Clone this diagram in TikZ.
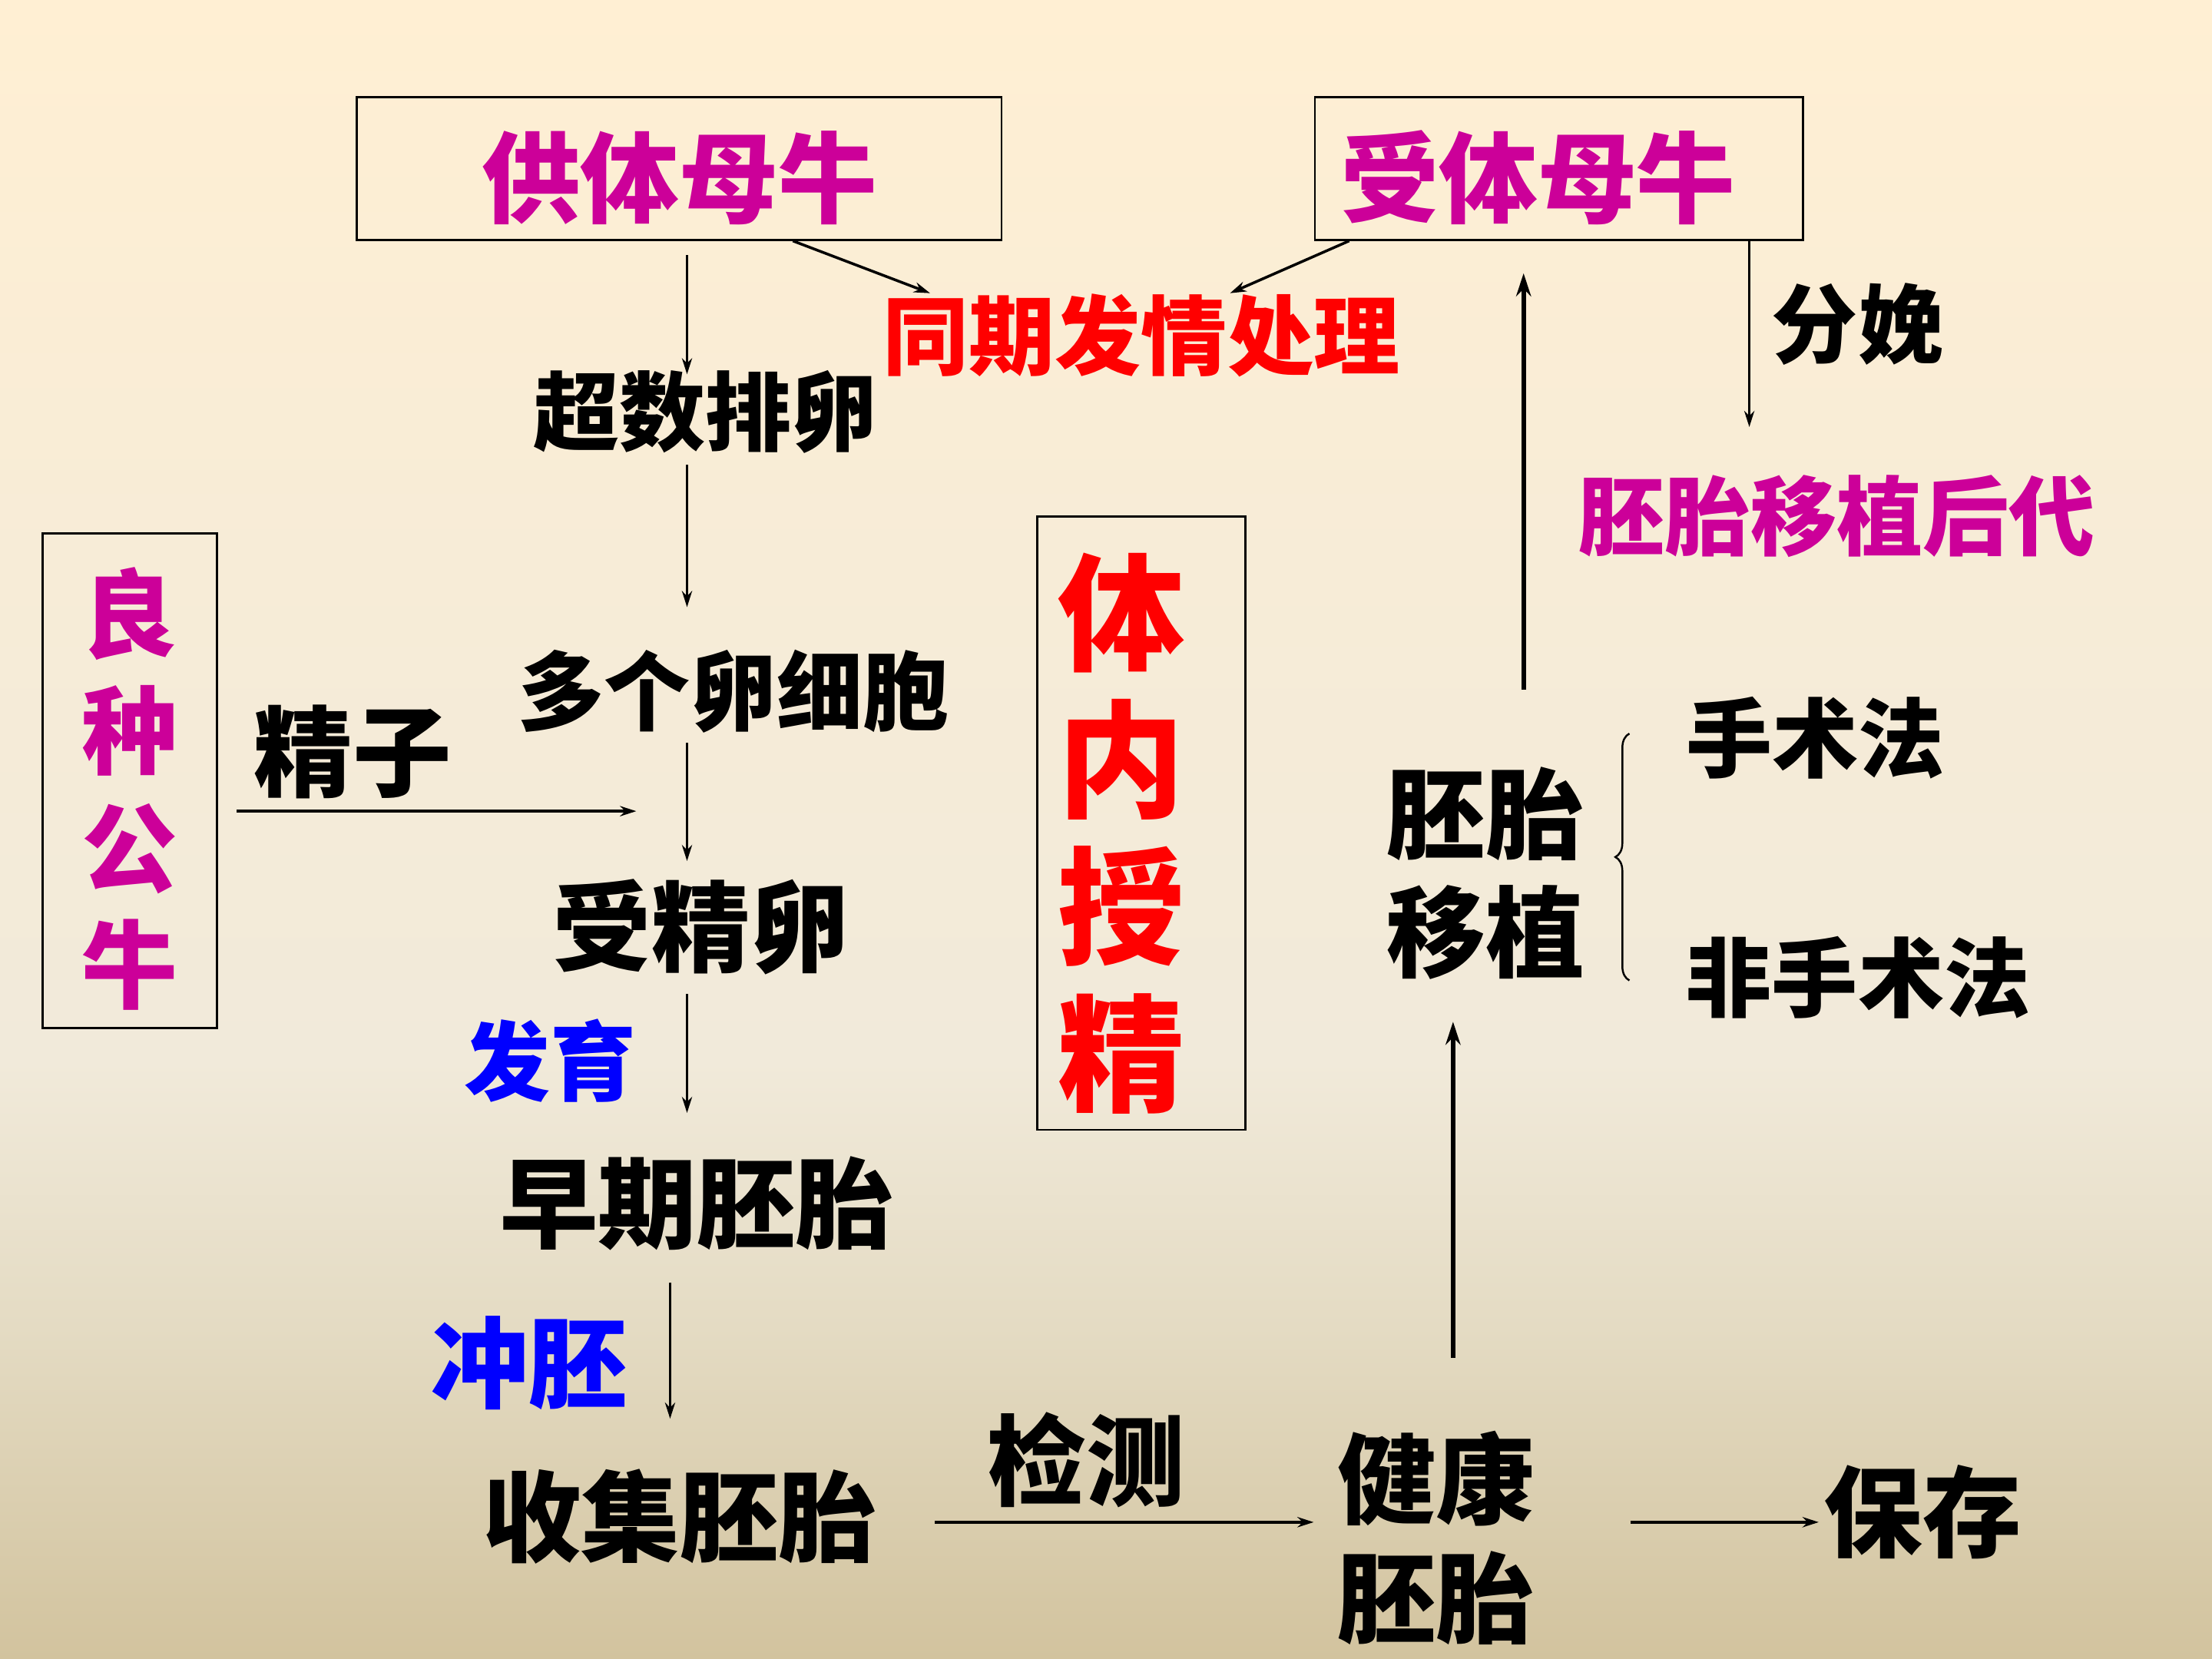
\documentclass[tikz,border=0pt]{standalone}
\usepackage{fontspec}
\setmainfont{Noto Sans CJK SC}
\usetikzlibrary{arrows.meta}
\usetikzlibrary{decorations.pathreplacing}
\definecolor{cowpink}{RGB}{204,0,153}
\definecolor{bgtop}{RGB}{255,239,211}
\definecolor{bgupper}{RGB}{247,236,215}
\definecolor{bgmid}{RGB}{241,234,218}
\definecolor{bglower}{RGB}{228,219,195}
\definecolor{bgbot}{RGB}{210,195,158}
\pgfdeclareverticalshading{slidebg}{100bp}{color(0bp)=(bgbot); color(25bp)=(bgbot); color(35bp)=(bglower); color(43bp)=(bgmid); color(58bp)=(bgupper); color(75bp)=(bgtop); color(100bp)=(bgtop)}
\tikzset{>={Stealth[length=6pt,width=3.8pt]}}
\tikzset{
  bigtxt/.style={inner sep=0pt, font=\fontsize{36.6}{44}\selectfont\bfseries},
  midtxt/.style={inner sep=0pt, font=\fontsize{31.9}{38}\selectfont\bfseries},
  framed/.style={draw, line width=0.8pt},
  heavy/.style={line width=1.6pt, >={Stealth[length=8.5pt,width=5.5pt]}}
}

\begin{document}
\begin{tikzpicture}[->, line width=0.75pt, x=0.018367cm, y=-0.018367cm]
  % Background
  \shade[-, shading=slidebg] (0,0) rectangle (1568,1176);
  \useasboundingbox (0,0) rectangle (1568,1176);

  % Boxes
  \node[framed, bigtxt, minimum width=238.8pt, minimum height=52.8pt] (donor) at (481.5,119.5) {\rule{0pt}{38pt}\textcolor{cowpink}{供体母牛}};
  \node[framed, bigtxt, minimum height=52.8pt, text width=162pt, align=left, inner xsep=9.4pt] (recip) at (1105,119.5) {\rule{0pt}{38pt}\textcolor{cowpink}{受体母牛}};
  \node[framed, inner sep=0pt, font=\fontsize{35.5}{43.4}\selectfont\bfseries, text=cowpink, align=center, minimum width=64.8pt, minimum height=183.4pt] (bull) at (92,553.5) {\rule{0pt}{36.5pt}良\\种\\公\\牛};
  \node[framed, inner sep=0pt, font=\fontsize{47}{54.4}\selectfont\bfseries, text=red, text width=61.7pt, align=left, inner xsep=7.8pt, minimum height=227.3pt] (invivo) at (809,583.5) {\rule{0pt}{47.6pt}体\\内\\授\\精};

  % Labels
  \node[midtxt] (sync) at (809,238) {\textcolor{red}{同期发情处理}};
  \node[midtxt] (super) at (500,292) {超数排卵};
  \node[midtxt] (birth) at (1317,230) {分娩};
  \node[midtxt] (offspring) at (1302,366) {\textcolor{cowpink}{胚胎移植后代}};
  \node[bigtxt] (sperm) at (250,533) {精子};
  \node[midtxt] (eggs) at (520,490) {多个卵细胞};
  \node[bigtxt] (zygote) at (497,657) {受精卵};
  \node[midtxt] (develop) at (390,752) {\textcolor{blue}{发育}};
  \node[bigtxt] (early) at (494,853) {早期胚胎};
  \node[bigtxt] (flush) at (375,966) {\textcolor{blue}{冲胚}};
  \node[bigtxt] (collect) at (482,1075) {收集胚胎};
  \node[bigtxt] (detect) at (770,1035) {检测};
  \node[bigtxt, align=center] (healthy) at (1018,1090) {健康\\胚胎};
  \node[bigtxt] (store) at (1363,1072) {保存};
  \node[bigtxt, align=center] (transfer) at (1053,619) {胚胎\\移植};
  \node[midtxt] (surg) at (1287,523) {手术法};
  \node[midtxt] (nonsurg) at (1317,693) {非手术法};

  % Donor column
  \coordinate (colA) at (487,0);
  \draw[shorten <=5.2pt, shorten >=-1.8pt] (donor.south -| colA) -- (super.north -| colA);
  \draw[shorten <=3.9pt, shorten >=15.4pt] (super.south -| colA) -- (eggs.north -| colA);
  \draw[shorten <=3.4pt, shorten >=6.3pt] (eggs.south -| colA) -- (zygote.north -| colA);
  \draw[shorten <=6.8pt, shorten >=15.7pt] (zygote.south -| colA) -- (early.north -| colA);
  \coordinate (colB) at (475,0);
  \draw[shorten <=11.5pt, shorten >=18.3pt] (early.south -| colB) -- (collect.north -| colB);

  % Sperm from the bull
  \coordinate (meet) at (451,575);
  \draw[line width=1pt, shorten <=6.8pt] (bull.east |- meet) -- (meet);

  % Synchronised oestrus
  \draw[line width=1pt] ([xshift=42.1pt]donor.south) -- ([xshift=17.8pt]sync.north west);
  \draw[line width=1pt] ([xshift=13.1pt]recip.south west) -- ([xshift=32.9pt]sync.north);

  % Calving
  \coordinate (colC) at (1240,0);
  \draw[shorten >=17.5pt] (recip.south -| colC) -- (offspring.north -| colC);

  % Bottom row
  \coordinate (rowD) at (0,1079);
  \draw[line width=1.3pt, shorten <=20.9pt, shorten >=8.4pt] (collect.east |- rowD) -- (healthy.west |- rowD);
  \draw[line width=1.3pt, shorten <=35pt, shorten >=1.6pt] (healthy.east |- rowD) -- (store.west |- rowD);

  % Transfer back to the recipient
  \coordinate (colD) at (1030,0);
  \draw[heavy, shorten <=26.7pt, shorten >=15.2pt] (healthy.north -| colD) -- (transfer.south -| colD);
  \coordinate (colE) at (1080,0);
  \draw[heavy, shorten <=28.2pt, shorten >=12pt] (transfer.north -| colE) -- (recip.south -| colE);

  % Brace for the two methods
  \draw[-, line width=0.7pt, decorate, decoration={brace, amplitude=5.2pt}] (1155,695) -- (1155,520);
\end{tikzpicture}
\end{document}
